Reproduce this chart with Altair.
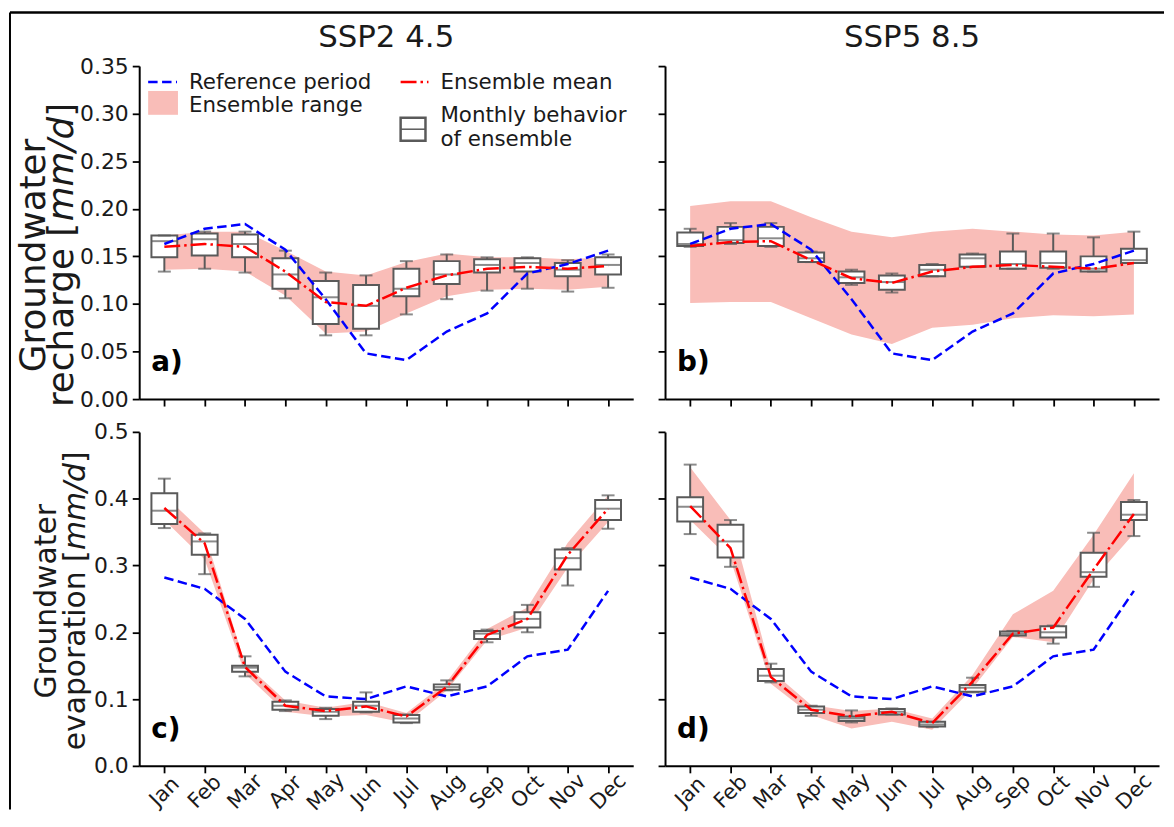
import json
import altair as alt
import pandas as pd

months = ["Jan", "Feb", "Mar", "Apr", "May", "Jun", "Jul", "Aug", "Sep", "Oct", "Nov", "Dec"]
month_num = list(range(1, 13))

# ---------------- Groundwater recharge (mm/d) ----------------
ref_recharge = [0.163, 0.179, 0.184, 0.157, 0.105, 0.048, 0.041, 0.071, 0.090, 0.132, 0.142, 0.156]

a_mean = [0.160, 0.163, 0.160, 0.134, 0.102, 0.098, 0.117, 0.130, 0.137, 0.139, 0.137, 0.140]
a_rng_hi = [0.172, 0.176, 0.176, 0.156, 0.134, 0.130, 0.144, 0.153, 0.149, 0.149, 0.147, 0.149]
a_rng_lo = [0.136, 0.137, 0.134, 0.109, 0.069, 0.071, 0.090, 0.108, 0.115, 0.116, 0.115, 0.118]
a_wlo = [0.134, 0.137, 0.133, 0.106, 0.067, 0.067, 0.089, 0.105, 0.114, 0.116, 0.113, 0.117]
a_q1 = [0.149, 0.151, 0.149, 0.116, 0.079, 0.074, 0.108, 0.121, 0.133, 0.134, 0.129, 0.131]
a_med = [0.166, 0.168, 0.163, 0.131, 0.107, 0.098, 0.116, 0.131, 0.141, 0.143, 0.136, 0.141]
a_q3 = [0.172, 0.174, 0.173, 0.148, 0.124, 0.120, 0.137, 0.145, 0.147, 0.148, 0.143, 0.149]
a_whi = [0.172, 0.176, 0.176, 0.156, 0.133, 0.130, 0.145, 0.152, 0.149, 0.149, 0.146, 0.152]

b_mean = [0.161, 0.165, 0.166, 0.146, 0.127, 0.122, 0.134, 0.139, 0.141, 0.139, 0.137, 0.143]
b_rng_hi = [0.203, 0.208, 0.208, 0.191, 0.176, 0.170, 0.176, 0.179, 0.176, 0.173, 0.172, 0.176]
b_rng_lo = [0.101, 0.102, 0.102, 0.085, 0.068, 0.058, 0.075, 0.078, 0.085, 0.088, 0.087, 0.089]
b_wlo = [0.160, 0.163, 0.160, 0.144, 0.120, 0.112, 0.129, 0.139, 0.137, 0.137, 0.134, 0.143]
b_q1 = [0.161, 0.164, 0.161, 0.144, 0.122, 0.115, 0.129, 0.139, 0.137, 0.138, 0.134, 0.143]
b_med = [0.163, 0.167, 0.169, 0.148, 0.128, 0.123, 0.136, 0.148, 0.142, 0.143, 0.137, 0.146]
b_q3 = [0.175, 0.181, 0.181, 0.154, 0.134, 0.130, 0.141, 0.152, 0.155, 0.155, 0.150, 0.158]
b_whi = [0.179, 0.185, 0.185, 0.155, 0.136, 0.132, 0.142, 0.153, 0.174, 0.174, 0.170, 0.176]

# ---------------- Groundwater evaporation (mm/d) ----------------
ref_evap = [0.282, 0.265, 0.220, 0.141, 0.104, 0.100, 0.119, 0.104, 0.119, 0.164, 0.174, 0.262]

c_mean = [0.386, 0.333, 0.148, 0.090, 0.082, 0.089, 0.074, 0.118, 0.196, 0.220, 0.316, 0.385]
c_rng_hi = [0.405, 0.348, 0.153, 0.098, 0.087, 0.096, 0.079, 0.126, 0.205, 0.237, 0.334, 0.405]
c_rng_lo = [0.368, 0.309, 0.138, 0.081, 0.074, 0.076, 0.064, 0.113, 0.188, 0.207, 0.297, 0.365]
c_wlo = [0.356, 0.287, 0.134, 0.082, 0.070, 0.080, 0.064, 0.113, 0.185, 0.200, 0.270, 0.355]
c_q1 = [0.362, 0.316, 0.141, 0.084, 0.075, 0.081, 0.065, 0.114, 0.190, 0.207, 0.294, 0.368]
c_med = [0.382, 0.336, 0.147, 0.090, 0.081, 0.090, 0.071, 0.118, 0.198, 0.220, 0.311, 0.385]
c_q3 = [0.408, 0.346, 0.150, 0.096, 0.085, 0.096, 0.076, 0.122, 0.202, 0.230, 0.324, 0.398]
c_whi = [0.430, 0.348, 0.164, 0.098, 0.087, 0.110, 0.077, 0.128, 0.204, 0.241, 0.326, 0.405]

d_mean = [0.389, 0.326, 0.133, 0.084, 0.074, 0.081, 0.064, 0.126, 0.198, 0.207, 0.294, 0.377]
d_rng_hi = [0.447, 0.368, 0.143, 0.091, 0.082, 0.086, 0.071, 0.136, 0.227, 0.262, 0.346, 0.438]
d_rng_lo = [0.368, 0.309, 0.123, 0.076, 0.056, 0.066, 0.054, 0.116, 0.193, 0.185, 0.279, 0.348]
d_wlo = [0.347, 0.298, 0.125, 0.075, 0.065, 0.077, 0.058, 0.110, 0.195, 0.183, 0.268, 0.344]
d_q1 = [0.366, 0.312, 0.127, 0.079, 0.067, 0.077, 0.059, 0.111, 0.195, 0.192, 0.283, 0.368]
d_med = [0.388, 0.336, 0.135, 0.084, 0.071, 0.081, 0.062, 0.117, 0.198, 0.200, 0.290, 0.376]
d_q3 = [0.402, 0.361, 0.145, 0.089, 0.074, 0.085, 0.066, 0.121, 0.201, 0.209, 0.319, 0.395]
d_whi = [0.451, 0.368, 0.153, 0.090, 0.083, 0.086, 0.066, 0.132, 0.202, 0.210, 0.349, 0.398]

recharge_ticks = [0.0, 0.05, 0.10, 0.15, 0.20, 0.25, 0.30, 0.35]
evap_ticks = [0.0, 0.1, 0.2, 0.3, 0.4, 0.5]

FONT = "DejaVu Sans"
INK = "#1a1a1a"
PINK = "#f9bdb8"
GRAY = "#5a5a5a"
BLUE = "#0000ff"
RED = "#ff0000"
W, H_TOP, H_BOT = 497, 335, 336

month_expr = json.dumps(months) + "[datum.value - 1]"

# approximate DejaVu Sans advance widths (em) used to chain the rotated label pieces
CW = {"G": 0.775, "r": 0.411, "o": 0.612, "u": 0.634, "n": 0.634, "d": 0.635, "w": 0.818,
      "a": 0.613, "t": 0.392, "e": 0.615, "c": 0.550, "h": 0.634, "g": 0.635, " ": 0.318,
      "[": 0.390, "]": 0.390, "m": 0.974, "/": 0.337, "v": 0.592, "p": 0.635, "i": 0.278}


def tw(s, f):
    return sum(CW.get(ch, 0.6) for ch in s) * f


def frame_df(ref, mean, lo, hi, wlo, q1, med, q3, whi):
    return pd.DataFrame({"m": month_num, "month": months, "ref": ref, "mean": mean,
                         "lo": lo, "hi": hi, "wlo": wlo, "q1": q1, "med": med,
                         "q3": q3, "whi": whi})


def ylabel_layers(one, lines, fsize, yc):
    out = []
    for segs, xb in lines:
        total = sum(tw(s, fsize) for s, _ in segs)
        y0 = yc + total / 2
        for s, ital in segs:
            out.append(one.mark_text(text=s, font=FONT, fontSize=fsize, color=INK,
                                     fontStyle="italic" if ital else "normal",
                                     angle=270, align="left", baseline="alphabetic").encode(
                x=alt.value(xb), y=alt.value(y0)))
            y0 -= tw(s, fsize)
    return out


def panel(df, ydom, yticks, yfmt, height, xlabels, ylabels, ylab, tag,
          title=None, legend=False, border=False):
    xscale = alt.Scale(domain=[0.5, 12.5], nice=False, zero=False)
    yscale = alt.Scale(domain=ydom, nice=False, zero=False)
    xaxis = alt.Axis(values=month_num, labels=xlabels, labelExpr=month_expr,
                     labelAngle=315, labelAlign="center", labelBaseline="middle",
                     labelPadding=19, labelOverlap=False, labelFlush=False,
                     labelFontSize=21, title=None, grid=False)
    yaxis = alt.Axis(values=yticks, format=yfmt, labels=ylabels, labelFontSize=22,
                     labelPadding=4, grid=False, labelOverlap=False, labelFlush=False,
                     title=None)
    X = alt.X("m:Q", scale=xscale, axis=xaxis)

    def Y(f):
        return alt.Y(f + ":Q", scale=yscale, axis=yaxis)

    base = alt.Chart(df)
    band = base.mark_area(color=PINK, opacity=1).encode(x=X, y=Y("lo"), y2="hi:Q")
    wl = base.mark_rule(color=GRAY, strokeWidth=2).encode(x=X, y=Y("wlo"), y2="q1:Q")
    wh = base.mark_rule(color=GRAY, strokeWidth=2).encode(x=X, y=Y("q3"), y2="whi:Q")
    box = base.mark_bar(size=26, fill="white", stroke=GRAY, strokeWidth=2).encode(
        x=X, y=Y("q1"), y2="q3:Q")
    med = base.mark_tick(color=GRAY, size=26, thickness=2, orient="horizontal").encode(
        x=X, y=Y("med"))
    cap_lo = base.mark_tick(color=GRAY, size=13, thickness=2, orient="horizontal").encode(
        x=X, y=Y("wlo"))
    cap_hi = base.mark_tick(color=GRAY, size=13, thickness=2, orient="horizontal").encode(
        x=X, y=Y("whi"))
    ref = base.mark_line(color=BLUE, strokeWidth=2.5, strokeDash=[9.5, 4.5]).encode(
        x=X, y=Y("ref"))
    mean = base.mark_line(color=RED, strokeWidth=2.5, strokeDash=[16, 4, 2.5, 4]).encode(
        x=X, y=Y("mean"))

    one = alt.Chart(pd.DataFrame({"k": [0]}))
    lab = one.mark_text(text=tag, font=FONT, fontSize=28, fontWeight="bold", color="black",
                        align="left", baseline="alphabetic").encode(
        x=alt.value(12), y=alt.value(height - 28))

    layers = [band, wl, wh, box, med, cap_lo, cap_hi, ref, mean, lab]

    if ylab:
        layers += ylabel_layers(one, ylab["lines"], ylab["size"], ylab["yc"])

    if title:
        layers.append(one.mark_text(text=title, font=FONT, fontSize=31, color=INK,
                                    align="center", baseline="alphabetic").encode(
            x=alt.value(W / 2), y=alt.value(-19)))

    if legend:
        LF = 21.5
        layers += [
            one.mark_rule(color=BLUE, strokeWidth=2.5, strokeDash=[9.5, 4.5]).encode(
                x=alt.value(9), x2=alt.value(38), y=alt.value(16)),
            one.mark_rule(color=RED, strokeWidth=2.5, strokeDash=[16, 4, 2.5, 4]).encode(
                x=alt.value(263), x2=alt.value(291), y=alt.value(16)),
            one.mark_rect(color=PINK).encode(
                x=alt.value(9), x2=alt.value(39), y=alt.value(25), y2=alt.value(49)),
            one.mark_rect(fill="white", stroke=GRAY, strokeWidth=2.5).encode(
                x=alt.value(263), x2=alt.value(288), y=alt.value(52), y2=alt.value(75)),
            one.mark_rule(color=GRAY, strokeWidth=1.5).encode(
                x=alt.value(263), x2=alt.value(288), y=alt.value(63.5)),
        ]
        for txt, tx, ty in [("Reference period", 50, 23), ("Ensemble mean", 303, 23),
                            ("Ensemble range", 50, 46), ("Monthly behavior", 303, 56),
                            ("of ensemble", 303, 80)]:
            layers.append(one.mark_text(text=txt, font=FONT, fontSize=LF, color=INK,
                                        align="left", baseline="alphabetic").encode(
                x=alt.value(tx), y=alt.value(ty)))

    if border:
        layers += [
            one.mark_rule(color="black", strokeWidth=2.5).encode(
                x=alt.value(-130), x2=alt.value(1031), y=alt.value(-54)),
            one.mark_rule(color="black", strokeWidth=2).encode(
                x=alt.value(-130), y=alt.value(-54), y2=alt.value(748)),
        ]

    return alt.layer(*layers).properties(width=W, height=height)


dfa = frame_df(ref_recharge, a_mean, a_rng_lo, a_rng_hi, a_wlo, a_q1, a_med, a_q3, a_whi)
dfb = frame_df(ref_recharge, b_mean, b_rng_lo, b_rng_hi, b_wlo, b_q1, b_med, b_q3, b_whi)
dfc = frame_df(ref_evap, c_mean, c_rng_lo, c_rng_hi, c_wlo, c_q1, c_med, c_q3, c_whi)
dfd = frame_df(ref_evap, d_mean, d_rng_lo, d_rng_hi, d_wlo, d_q1, d_med, d_q3, d_whi)

ylab_top = {"size": 36, "yc": 190,
            "lines": [([("Groundwater", False)], -95),
                      ([("recharge [", False), ("mm/d", True), ("]", False)], -67)]}
ylab_bot = {"size": 30, "yc": 170,
            "lines": [([("Groundwater", False)], -84),
                      ([("evaporation [", False), ("mm/d", True), ("]", False)], -55)]}

pa = panel(dfa, [0, 0.35], recharge_ticks, ".2f", H_TOP, False, True, ylab_top, "a)",
           title="SSP2 4.5", legend=True, border=True)
pb = panel(dfb, [0, 0.35], recharge_ticks, ".2f", H_TOP, False, False, None, "b)",
           title="SSP5 8.5")
pc = panel(dfc, [0, 0.5], evap_ticks, ".1f", H_BOT, True, True, ylab_bot, "c)")
pd_ = panel(dfd, [0, 0.5], evap_ticks, ".1f", H_BOT, True, False, None, "d)")

chart = alt.concat(pa, pb, pc, pd_, columns=2, spacing={"row": 33, "column": 32},
                   bounds="flush").properties(
    padding={"left": 0, "top": 0, "right": 0, "bottom": 0}
).configure_view(stroke=None).configure_axis(
    domainColor="black", domainWidth=2, tickColor="black", tickWidth=1.8, tickSize=7,
    labelColor=INK, labelFont=FONT, titleFont=FONT, titleColor=INK
)

chart.save("out.html", embed_options={"renderer": "svg", "actions": False})
